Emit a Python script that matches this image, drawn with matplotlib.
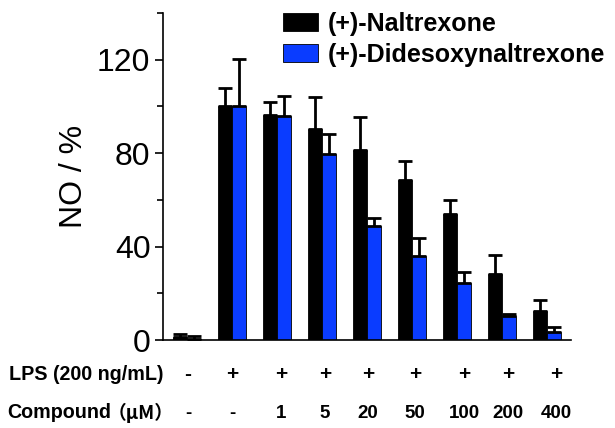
import matplotlib
matplotlib.use("Agg")
import matplotlib.pyplot as plt
from matplotlib.ticker import MultipleLocator
import numpy as np

plt.rcParams['font.family'] = ['Liberation Sans', 'Noto Sans CJK SC', 'DejaVu Sans']

# ---- data ----
series_names = ["(+)-Naltrexone", "(+)-Didesoxynaltrexone"]
naltrexone = [1.4, 100, 96.5, 90.4, 81.5, 68.3, 53.8, 28.2, 12.5]
naltrexone_err = [1.2, 8.0, 5.3, 13.5, 13.9, 8.3, 6.0, 8.4, 4.7]
didesoxy = [0.5, 100, 96, 79.7, 48.8, 35.9, 24.2, 10.2, 3.3]
didesoxy_err = [1.2, 20.5, 8.6, 8.5, 3.4, 7.8, 5.0, 1.0, 2.4]
lps_labels = ["-", "+", "+", "+", "+", "+", "+", "+", "+"]
compound_labels = ["-", "-", "1", "5", "20", "50", "100", "200", "400"]
row_titles = ["LPS (200 ng/mL)", "Compound", "（μM）"]
y_ticks = [0, 40, 80, 120]

# ---- layout ----
W, H = 615, 428
fig = plt.figure(figsize=(W / 100, H / 100), dpi=100)
ax = fig.add_axes([163 / W, 1 - 340 / H, (571 - 163) / W, (340 - 13) / H])

x = np.arange(len(naltrexone))
bw = 0.31
colors = ["#000000", "#0a3cff"]

ax.bar(x - bw / 2, naltrexone, bw, color=colors[0], edgecolor="black", linewidth=0.6,
       label=series_names[0], zorder=2)
ax.bar(x + bw / 2, didesoxy, bw, color=colors[1], edgecolor="black", linewidth=0.6,
       label=series_names[1], zorder=2)
ax.errorbar(x - bw / 2, naltrexone, yerr=[np.zeros(len(x)), naltrexone_err], fmt="none",
            ecolor="black", elinewidth=2, capsize=4.7, capthick=2, zorder=3)
ax.errorbar(x + bw / 2, didesoxy, yerr=[np.zeros(len(x)), didesoxy_err], fmt="none",
            ecolor="black", elinewidth=2, capsize=4.7, capthick=2, zorder=3)

ax.set_xlim(-0.53, 8.53)
ax.set_ylim(0, 140)
ax.set_yticks(y_ticks)
ax.yaxis.set_minor_locator(MultipleLocator(20))
ax.set_xticks([])
for s in ["top", "right"]:
    ax.spines[s].set_visible(False)
for s in ["left", "bottom"]:
    ax.spines[s].set_linewidth(1.2)
ax.tick_params(axis="y", which="major", direction="out", length=6, width=1.2,
               labelsize=23, pad=3)
ax.tick_params(axis="y", which="minor", direction="out", length=4, width=1.2)
ax.set_ylabel("NO / %", fontsize=23, labelpad=6)

leg = ax.legend(loc="upper left", bbox_to_anchor=(0.27, 1.035), frameon=False,
                prop={"weight": "bold", "size": 18}, handlelength=1.4, handleheight=0.7,
                handletextpad=0.4, labelspacing=0.28, borderaxespad=0)

# ---- condition table below plot ----
col_x = [188, 232, 281, 325, 368, 415, 464, 508, 556]
row1_y = 375
row2_y = 413
fig.text(9 / W, 1 - row1_y / H, row_titles[0], fontsize=14.2, fontweight="bold",
         ha="left", va="center")
fig.text(7 / W, 1 - row2_y / H, row_titles[1], fontsize=14.2, fontweight="bold",
         ha="left", va="center")
fig.text(108 / W, 1 - row2_y / H, row_titles[2], fontsize=13.5, fontweight="bold",
         ha="left", va="center", family=["Noto Sans CJK SC", "DejaVu Sans"])
for cx, lab in zip(col_x, lps_labels):
    fig.text(cx / W, 1 - row1_y / H, lab, fontsize=15, fontweight="bold", ha="center", va="center")
for cx, lab in zip(col_x, compound_labels):
    fig.text(cx / W, 1 - row2_y / H, lab, fontsize=13.5, fontweight="bold", ha="center", va="center")

fig.savefig("out.png", dpi=100)
